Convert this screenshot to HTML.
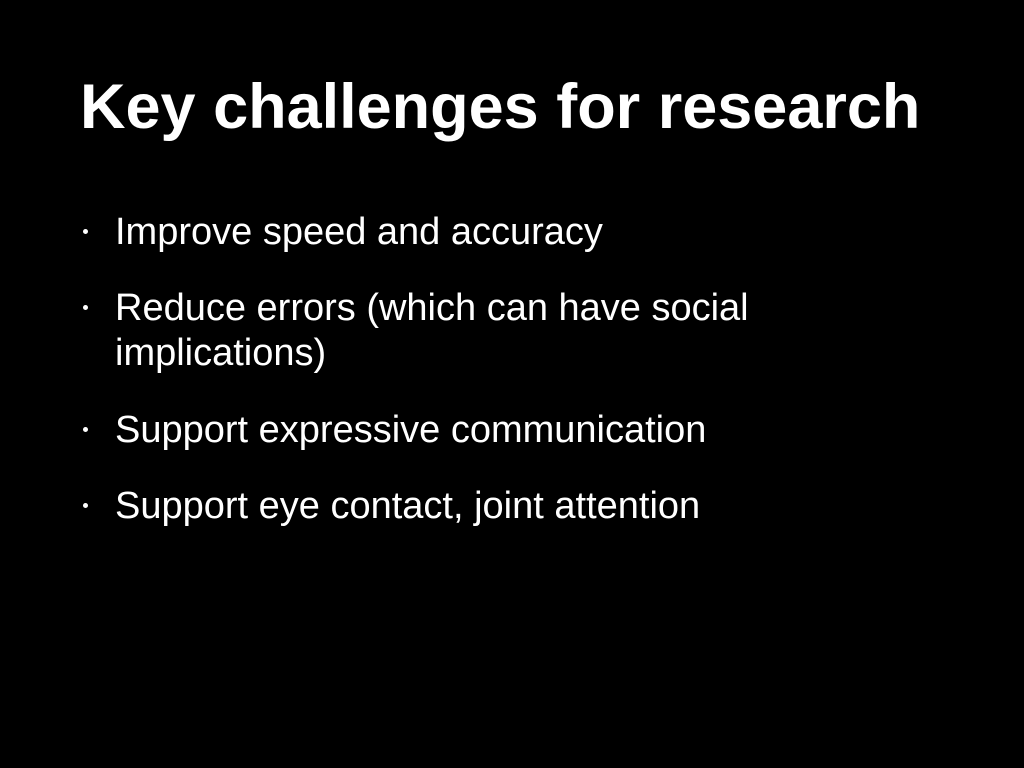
<!DOCTYPE html>
<html>
<head>
<meta charset="utf-8">
<style>
  html, body { margin:0; padding:0; }
  body { width:1024px; height:768px; background:#000; position:relative; overflow:hidden;
         font-family:"Liberation Sans", Arial, sans-serif; color:#fff; }
  .title { position:absolute; left:80px; top:76px; font-size:63px; line-height:63px; font-weight:bold; white-space:nowrap; }
  .item { position:absolute; left:115px; font-size:38px; line-height:45px; white-space:nowrap; }
  .dot { position:absolute; left:83px; width:5px; height:5px; border-radius:50%; background:#fff; }
</style>
</head>
<body>
  <div class="title">Key challenges for research</div>

  <div class="dot" style="top:229px"></div>
  <div class="item" style="top:210px">Improve speed and accuracy</div>

  <div class="dot" style="top:305px"></div>
  <div class="item" style="top:286px">Reduce errors (which can have social<br>implications)</div>

  <div class="dot" style="top:427px"></div>
  <div class="item" style="top:408px">Support expressive communication</div>

  <div class="dot" style="top:503px"></div>
  <div class="item" style="top:484px">Support eye contact, joint attention</div>
</body>
</html>
